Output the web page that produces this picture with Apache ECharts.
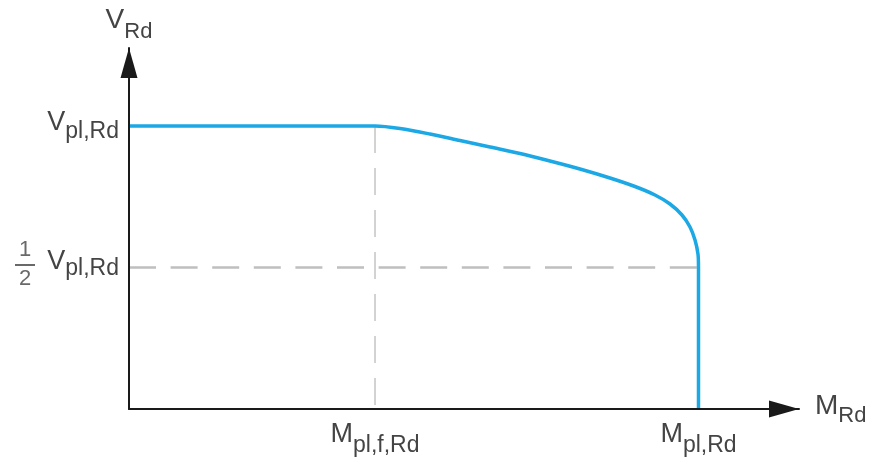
<!DOCTYPE html>
<html>
<head>
<meta charset="utf-8">
<script src="https://cdn.jsdelivr.net/npm/echarts@6/dist/echarts.min.js"></script>
<style>
  html, body { margin: 0; padding: 0; background: #ffffff; }
  #chart { width: 872px; height: 459px; }
</style>
</head>
<body>
<div id="chart"></div>
<script>
// Normalised units: M / M_pl,Rd on x, V / V_pl,Rd on y
const curveM = [0, 0.4320, 0.4759, 0.5285, 0.5812, 0.6339, 0.6866, 0.7392, 0.7919, 0.8446, 0.8885, 0.9236, 0.9500, 0.9710, 0.9851, 0.9939, 0.9991, 1, 1];
const curveV = [1, 1, 0.9912, 0.9717, 0.9488, 0.9258, 0.9028, 0.8763, 0.8481, 0.8163, 0.7862, 0.7562, 0.7244, 0.6855, 0.6431, 0.5972, 0.5477, 0.5, 0];

const mPlfRd = 0.432;   // M_pl,f,Rd
const mPlRd = 1;        // M_pl,Rd
const vPlRd = 1;        // V_pl,Rd
const vHalf = 0.5;      // 1/2 V_pl,Rd

const xMax = 1.1765;
const yMax = 1.2756;

const xTickValues = [mPlfRd, mPlRd];
const xTickLabels = ['{m|M}{s|pl,f,Rd}', '{m|M}{s|pl,Rd}'];
const yTickValues = [vPlRd, vHalf];
const yTickLabels = ['{v|V}{s|pl,Rd}', '{v|V}{h|pl,Rd}'];
const fractionLabel = '{n1|1}\n{bar| }\n{n2|2}';
const xName = '{m|M}{s|Rd}';
const yName = '{v|V}{s|Rd}';

const FONT = '"Liberation Sans", Arial, Helvetica, sans-serif';
const TXT = '#444444';
const BLUE = '#1ba8e5';
const DASH = '#bfbfbf';
const AXIS = '#1a1a1a';

const chart = echarts.init(document.getElementById('chart'), null, { renderer: 'canvas' });

const option = {
  animation: false,
  backgroundColor: '#ffffff',
  textStyle: { fontFamily: FONT },
  grid: {
    left: 129, top: 48, width: 670, height: 361,
    containLabel: false, outerBoundsMode: 'none'
  },
  xAxis: {
    type: 'value', min: 0, max: xMax, z: 5,
    name: xName, nameLocation: 'end', nameGap: 16, nameMoveOverlap: false,
    nameTextStyle: {
      fontFamily: FONT, color: TXT, verticalAlign: 'middle',
      rich: {
        m: { fontFamily: FONT, fontSize: 28, color: TXT, height: 28, verticalAlign: 'top' },
        s: { fontFamily: FONT, fontSize: 22, color: TXT, height: 20, padding: [14, 0, 0, 0] }
      }
    },
    axisLine: {
      show: true, onZero: false,
      lineStyle: { color: AXIS, width: 2 },
      symbol: ['none', 'triangle'], symbolSize: [17, 30], symbolOffset: [0, -15]
    },
    axisTick: { show: false },
    splitLine: { show: false },
    axisLabel: {
      show: true, customValues: xTickValues, margin: 13,
      formatter: function (v) {
        const i = xTickValues.findIndex(t => Math.abs(t - v) < 1e-6);
        return i >= 0 ? xTickLabels[i] : '';
      },
      rich: {
        m: { fontFamily: FONT, fontSize: 27, color: TXT, height: 26, verticalAlign: 'top' },
        s: { fontFamily: FONT, fontSize: 23, color: TXT, height: 20, padding: [14, 0, 0, 0] }
      }
    }
  },
  yAxis: {
    type: 'value', min: 0, max: yMax, z: 5,
    name: yName, nameLocation: 'end', nameGap: 6, nameMoveOverlap: false,
    nameTextStyle: {
      fontFamily: FONT, color: TXT, align: 'center', verticalAlign: 'bottom',
      rich: {
        v: { fontFamily: FONT, fontSize: 28, color: TXT, height: 28, verticalAlign: 'top' },
        s: { fontFamily: FONT, fontSize: 22, color: TXT, height: 20, padding: [16, 0, 0, 0] }
      }
    },
    axisLine: {
      show: true, onZero: false,
      lineStyle: { color: AXIS, width: 2 },
      symbol: ['none', 'triangle'], symbolSize: [17, 30], symbolOffset: [0, -15]
    },
    axisTick: { show: false },
    splitLine: { show: false },
    axisLabel: {
      show: true, customValues: yTickValues, margin: 10,
      formatter: function (v) {
        const i = yTickValues.findIndex(t => Math.abs(t - v) < 1e-6);
        return i >= 0 ? yTickLabels[i] : '';
      },
      rich: {
        v: { fontFamily: FONT, fontSize: 27, color: TXT, height: 26, verticalAlign: 'top' },
        s: { fontFamily: FONT, fontSize: 23, color: TXT, height: 20, padding: [12, 0, 0, 0] },
        h: { fontFamily: FONT, fontSize: 23, color: TXT, height: 20, padding: [10, 0, 7, 0] }
      }
    }
  },
  series: [
    {
      name: 'half', type: 'line', silent: true, symbol: 'none', z: 1,
      lineStyle: { color: DASH, width: 2.5, type: [27, 14.6] },
      data: [[0, vHalf], [mPlRd, vHalf]]
    },
    {
      name: 'mplf', type: 'line', silent: true, symbol: 'none', z: 1,
      lineStyle: { color: '#c4c4c4', width: 1.5, type: [27, 15] },
      data: [[mPlfRd, vPlRd], [mPlfRd, 0]]
    },
    {
      name: 'interaction', type: 'line', silent: true, symbol: 'none', z: 3,
      smooth: 0.3,
      lineStyle: { color: BLUE, width: 3.5 },
      data: curveM.map((m, i) => [m, curveV[i]])
    },
    {
      name: 'fraction', type: 'scatter', silent: true, symbolSize: 0, z: 4,
      data: [[0, vHalf]],
      label: {
        show: true, position: 'inside', offset: [-104, -3.5],
        formatter: fractionLabel, align: 'center', verticalAlign: 'middle',
        rich: {
          n1: { fontFamily: FONT, fontSize: 22, color: TXT, height: 28, align: 'center' },
          bar: { fontSize: 2, height: 2, width: 20, backgroundColor: TXT, align: 'center' },
          n2: { fontFamily: FONT, fontSize: 22, color: TXT, height: 26, align: 'center' }
        }
      }
    }
  ]
};

chart.setOption(option);
</script>
</body>
</html>
